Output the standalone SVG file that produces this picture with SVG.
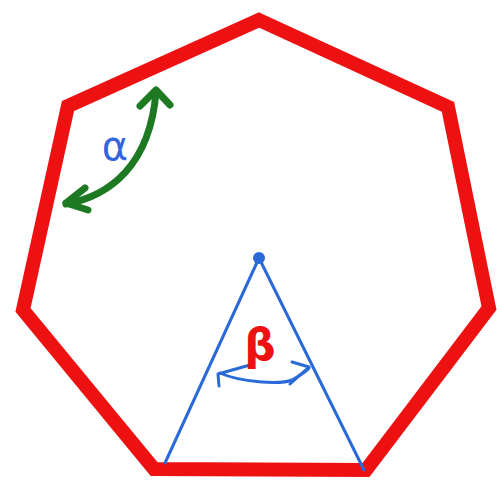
<svg xmlns="http://www.w3.org/2000/svg" width="497" height="484" viewBox="0 0 497 484">
<style>
.hep{fill:none;stroke:#ee1111;stroke-width:14;stroke-linejoin:miter}
.blue{fill:none;stroke:#2a6ad8;stroke-width:3;stroke-linecap:round;stroke-linejoin:round}
.green{fill:none;stroke:#1e7a22;stroke-width:7;stroke-linecap:round;stroke-linejoin:round}
.lbl{font-family:"DejaVu Sans",sans-serif;text-anchor:middle}
</style>
<rect width="497" height="484" fill="#fff"/>
<g id="heptagon">
<polygon class="hep" points="259,20 448,107 489,308 366,470 154,469 23,310 68,106"/>
</g>
<g id="triangle">
<polyline class="blue" points="165,463 259,258 364,470"/>
<circle cx="259" cy="258" r="6" fill="#2a6ad8"/>
</g>
<g id="connectors">
<path class="green" d="M66,204 C110,196 150,165 156,92"/>
<path class="green" d="M140,106 L156,90 L170,105"/>
<path class="green" d="M85,188 L66,203 L88,210"/>
<path class="blue" d="M220,373 C240,382 280,385 292,380 C300,375 306,372 309,368"/>
<path class="blue" d="M219,386 L218,374 L250,365"/>
<path class="blue" d="M292,362 L309,367 L290,384"/>
</g>
<g id="labels">
<text class="lbl" x="115" y="160" font-size="40" fill="#3366dd">α</text>
<text class="lbl" x="260" y="360" font-size="44" font-weight="bold" fill="#ee1111">β</text>
</g>
</svg>
